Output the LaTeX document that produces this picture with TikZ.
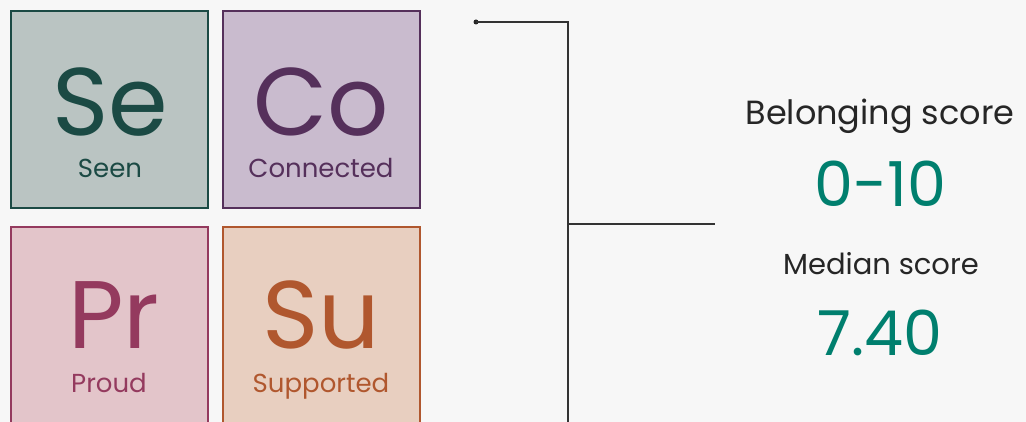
\documentclass[tikz,border=0pt]{standalone}
\usepackage{fontspec}
\setmainfont{Poppins}
\begin{document}
\begin{tikzpicture}[x=1pt,y=-1pt,
  tile/.style={draw, line width=2pt, minimum width=197pt, minimum height=197pt, inner sep=0pt, outer sep=0pt},
  symb/.style={anchor=base, inner sep=0pt, text depth=0pt, font=\fontsize{96}{96}\selectfont},
  nm/.style={anchor=base, inner sep=0pt, font=\fontsize{26}{26}\selectfont},
  conn/.style={draw=black!80, line width=1.4pt},
  lbl/.style={anchor=base, inner sep=0pt, text=black!85},
  val/.style={anchor=base, inner sep=0pt, text=scoreteal, font=\fontsize{62}{62}\selectfont}]
\definecolor{bg}{HTML}{F7F7F7}
\definecolor{seF}{HTML}{BAC4C2}\definecolor{seD}{HTML}{1B4A44}
\definecolor{coF}{HTML}{C9BBCE}\definecolor{coD}{HTML}{55305B}
\definecolor{prF}{HTML}{E3C5CA}\definecolor{prD}{HTML}{943A5E}
\definecolor{suF}{HTML}{E8CFC0}\definecolor{suD}{HTML}{B0572E}
\definecolor{scoreteal}{HTML}{007F6E}
\useasboundingbox (0,0) rectangle (1026,422);
\clip (0,0) rectangle (1026,422);
\fill[bg] (0,0) rectangle (1026,422);
% tiles
\node[tile, fill=seF, draw=seD] (se) at (109.5,109.5) {};
\node[tile, fill=coF, draw=coD] (co) at (321.5,109.5) {};
\node[tile, fill=prF, draw=prD] (pr) at (109.5,325.5) {};
\node[tile, fill=suF, draw=suD] (su) at (321.5,325.5) {};
\node[symb, text=seD] (seS) at (110,136) {Se};
\node[nm, text=seD] (seN) at (110,178) {Seen};
\node[symb, text=coD] (coS) at (321,136) {Co};
\node[nm, text=coD] (coN) at (321,178) {Connected};
\node[symb, text=prD] (prS) at (114,348) {Pr};
\node[nm, text=prD] (prN) at (109,392) {Proud};
\node[symb, text=suD] (suS) at (321,348) {Su};
\node[nm, text=suD] (suN) at (321,392) {Supported};
% connectors
\node[circle, fill=black!85, inner sep=0pt, minimum size=5pt] (dot) at (476,22) {};
\coordinate (corner) at (568,22);
\coordinate (junc) at (568,224);
\coordinate (bottom) at (568,430);
\coordinate (tip) at (715,224);
\draw[conn] (dot.center) -- (corner) -- (bottom);
\draw[conn] (junc) -- (tip);
% scores
\node[lbl, font=\fontsize{33.5}{34}\selectfont] (bl) at (880,125) {Belonging score};
\node[val] (range) at (880,207) {0-10};
\node[lbl, font=\fontsize{29}{29}\selectfont] (md) at (881,275) {Median score};
\node[val] (med) at (880,355) {7.40};
\end{tikzpicture}
\end{document}
